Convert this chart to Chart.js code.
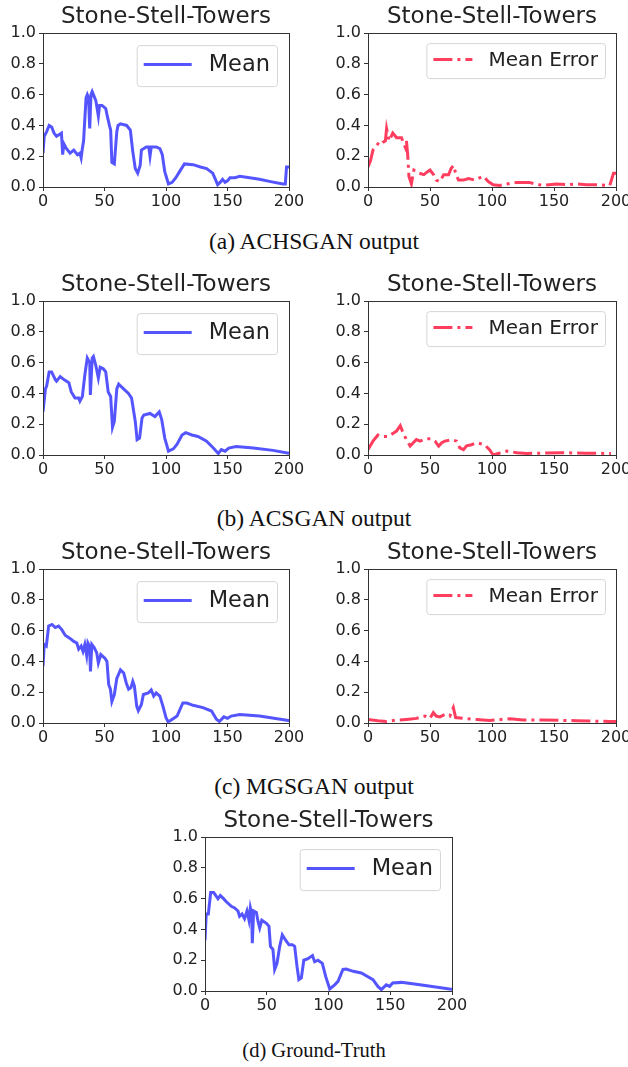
<!DOCTYPE html>
<html>
<head>
<meta charset="utf-8">
<script src="https://cdn.jsdelivr.net/npm/chart.js@4.4.1/dist/chart.umd.min.js"></script>
<style>
  body { margin: 0; background: #fff; width: 628px; height: 1067px; position: relative; overflow: hidden; }
  .box { position: absolute; height: 215px; }
  .cap { position: absolute; left: 0; width: 628px; text-align: center; font-family: "Liberation Serif", "Times New Roman", serif; font-size: 23.5px; color: #111; line-height: 26px; }
</style>
</head>
<body>
<div class="box" style="left:0;top:0;width:310px"><canvas id="aMean"></canvas></div>
<div class="box" style="left:325px;top:0;width:303px"><canvas id="aErr"></canvas></div>
<div class="cap" style="top:228px">(a) ACHSGAN output</div>
<div class="box" style="left:0;top:268px;width:310px"><canvas id="bMean"></canvas></div>
<div class="box" style="left:325px;top:268px;width:303px"><canvas id="bErr"></canvas></div>
<div class="cap" style="top:505px">(b) ACSGAN output</div>
<div class="box" style="left:0;top:536px;width:310px"><canvas id="cMean"></canvas></div>
<div class="box" style="left:325px;top:536px;width:303px"><canvas id="cErr"></canvas></div>
<div class="cap" style="top:773px">(c) MGSGAN output</div>
<div class="box" style="left:162px;top:804px;width:310px"><canvas id="dMean"></canvas></div>
<div class="cap" style="top:1037px;font-size:20.5px">(d) Ground-Truth</div>

<script>
// values (x = sample index, y = value)
const achsMeanX = [0,1,3,5,7,9,11,13,15,16, 17,19,22,25,28,30,31,32,33,35, 36,37,38,39,40,41,43,45,46,48, 51,52,54,55,56,58,60,61,63,68, 71,73,75,77,79,80,84,86,87,88, 92,95,97,99,102,105,108,111,115,122, 128,133,138,142,144,146,148,150,152,156, 160,168,176,185,195,197,198,200];
const achsMeanY = [0.22,0.33,0.36,0.40,0.39,0.35,0.33,0.34,0.35,0.21, 0.28,0.25,0.22,0.24,0.21,0.22,0.19,0.25,0.30,0.58, 0.60,0.58,0.38,0.60,0.62,0.60,0.56,0.46,0.53,0.53, 0.51,0.47,0.40,0.37,0.16,0.15,0.36,0.40,0.41,0.40, 0.37,0.23,0.12,0.09,0.14,0.24,0.26,0.26,0.20,0.26, 0.26,0.25,0.21,0.10,0.02,0.03,0.06,0.10,0.15,0.145, 0.13,0.12,0.09,0.015,0.03,0.05,0.03,0.04,0.06,0.06, 0.07,0.06,0.05,0.035,0.02,0.02,0.13,0.13];

const achsErrX = [0,2,4,6,8,10,12,14,15,17, 20,23,27,30,31,32,33,35,37,41, 45,48,50,53,55,58,61,65,67,69, 71,73,77,81,86,90,93,97,101,106, 112,120,130,135,141,146,152,160,168,176, 184,195,198,200];
const achsErrY = [0.13,0.17,0.24,0.26,0.28,0.27,0.29,0.30,0.38,0.30, 0.35,0.32,0.32,0.26,0.30,0.21,0.07,0.02,0.11,0.09, 0.08,0.10,0.11,0.08,0.045,0.035,0.08,0.08,0.12,0.14, 0.08,0.045,0.045,0.055,0.045,0.06,0.07,0.035,0.015,0.01, 0.02,0.03,0.03,0.02,0.01,0.015,0.02,0.015,0.02,0.015, 0.015,0.01,0.09,0.09];

const acsMeanX = [0,2,3,5,7,10,11,14,17,21, 23,26,29,30,32,34,36,38,38.5,40, 41,43,45,46.5,49,51,53,55,56.5,58, 60,61.5,65.5,69.5,72,75,76.5,78.5,80.5,82, 87,91,94.5,96.5,99,102,106,109,113,116, 121,126,133,138.5,142.5,145,148,151,157,171, 187,200];
const acsMeanY = [0.28,0.43,0.45,0.54,0.54,0.49,0.48,0.51,0.49,0.47, 0.41,0.37,0.37,0.35,0.38,0.52,0.63,0.60,0.39,0.63, 0.64,0.58,0.50,0.57,0.56,0.54,0.41,0.38,0.18,0.22, 0.43,0.46,0.43,0.40,0.37,0.22,0.10,0.11,0.24,0.26, 0.27,0.25,0.28,0.23,0.11,0.025,0.04,0.07,0.13,0.145, 0.13,0.12,0.09,0.045,0.01,0.035,0.025,0.045,0.055,0.045, 0.03,0.012];

const acsErrX = [0,4,8,12,16,20,23,26,28.5,31, 34,36.5,39,42,46,51,54,57,59.5,62, 67.5,71.5,74,77,79.5,83.5,87.5,90,94,98, 101,105,112,120,128,157,175,196];
const acsErrY = [0.035,0.09,0.13,0.12,0.12,0.14,0.155,0.19,0.14,0.10, 0.058,0.08,0.10,0.09,0.105,0.105,0.09,0.058,0.08,0.09, 0.10,0.09,0.047,0.035,0.06,0.067,0.08,0.075,0.067,0.035, 0.0,0.01,0.025,0.015,0.01,0.015,0.012,0.01];

const mgsMeanX = [0,1,2.7,4.6,7.3,10,12.7,15.4,18,22, 25,27.5,29,31,32.5,34,35.5,36.5,37.8,38.6, 39.7,41.6,43.7,45,47,50.5,52,53.4,54.8,56, 58,60,63,65.6,67.7,69.6,71.5,73,74.3,76.2, 77.5,80,81.6,85.6,88,90,92,95,97.5,100, 101.6,103,109,113.7,117,122,130,137,141,143.4, 147,150,153,160,176,199.5,200];
const mgsMeanY = [0.37,0.51,0.50,0.63,0.64,0.62,0.63,0.605,0.57,0.55, 0.53,0.52,0.48,0.50,0.465,0.51,0.44,0.52,0.50,0.335, 0.51,0.49,0.455,0.39,0.445,0.42,0.40,0.25,0.22,0.14, 0.185,0.29,0.345,0.325,0.26,0.22,0.23,0.27,0.24,0.11, 0.08,0.12,0.185,0.195,0.215,0.175,0.195,0.175,0.11,0.035, 0.01,0.013,0.045,0.13,0.13,0.115,0.10,0.078,0.024,0.01, 0.04,0.03,0.045,0.055,0.045,0.017,0.017];

const mgsErrX = [0,8,15,22,26,33,39,46,50,52.7, 55,58,62,66,68.8,70.7,76.9,87.6,98,114.5, 125,141,168,195,200];
const mgsErrY = [0.023,0.015,0.01,0.018,0.02,0.025,0.03,0.045,0.03,0.067, 0.045,0.04,0.055,0.045,0.10,0.035,0.03,0.023,0.016,0.028, 0.02,0.02,0.015,0.01,0.01];

const gtMeanX = [0,1,2.7,4.6,7,10.5,12.4,15,17.3,21.3, 24,26.7,28,30,32,34,35.6,36.7,37.8,38.3, 39.4,41.6,43,44.3,46,49.7,51.8,53,55,56.4, 58.3,60.5,62.6,65.3,68,70.7,72.6,74.5,76,78, 80,83.4,87,88.8,91.5,95,97.7,101,105,107.7, 111.7,114.4,120,126.6,136,140,142.8,146.8,149.5,152, 159,174,198,200];
const gtMeanY = [0.33,0.50,0.50,0.64,0.64,0.60,0.62,0.60,0.58,0.55, 0.54,0.52,0.485,0.50,0.47,0.52,0.46,0.54,0.50,0.31, 0.52,0.51,0.45,0.41,0.46,0.44,0.42,0.29,0.27,0.14, 0.18,0.29,0.365,0.33,0.30,0.30,0.29,0.16,0.074,0.085, 0.20,0.21,0.23,0.19,0.20,0.18,0.095,0.013,0.04,0.063, 0.14,0.143,0.128,0.117,0.074,0.03,0.009,0.04,0.03,0.052, 0.056,0.04,0.013,0.012];

const xTicks = [0, 50, 100, 150, 200];
const yTicks = [0, 0.2, 0.4, 0.6, 0.8, 1.0];
const chartTitle = 'Stone-Stell-Towers';

const FONT = '"DejaVu Sans", sans-serif';
const INK = '#222';

// matplotlib style legend box in the upper right corner
const boxLegend = {
  id: 'boxLegend',
  afterDraw(chart, args, o) {
    const ds = chart.data.datasets[0];
    const { ctx, chartArea } = chart;
    ctx.save();
    ctx.font = o.size + 'px ' + FONT;
    const tw = ctx.measureText(ds.label).width;
    const w = o.pad + o.sample + o.gap + tw + o.pad;
    const x = chartArea.right - o.inset - w;
    const y = chartArea.top + o.insetTop;
    ctx.beginPath();
    ctx.roundRect(x + 0.5, y + 0.5, w, o.height, 3);
    ctx.fillStyle = 'rgba(255,255,255,0.85)';
    ctx.fill();
    ctx.strokeStyle = '#d6d6d6';
    ctx.lineWidth = 1;
    ctx.stroke();
    const my = y + o.height / 2;
    ctx.beginPath();
    ctx.strokeStyle = ds.borderColor;
    ctx.lineWidth = ds.borderWidth;
    ctx.setLineDash(ds.borderDash || []);
    ctx.moveTo(x + o.pad, my - 1);
    ctx.lineTo(x + o.pad + o.sample, my - 1);
    ctx.stroke();
    ctx.setLineDash([]);
    ctx.fillStyle = INK;
    ctx.textBaseline = 'middle';
    ctx.fillText(ds.label, x + o.pad + o.sample + o.gap, my);
    ctx.restore();
  }
};

// box around the plot area
const frame = {
  id: 'frame',
  afterDraw(chart) {
    const { ctx, chartArea: a } = chart;
    ctx.save();
    ctx.strokeStyle = '#333';
    ctx.lineWidth = 1;
    ctx.strokeRect(Math.round(a.left) + 0.5, Math.round(a.top) + 0.5, Math.round(a.right - a.left), Math.round(a.bottom - a.top));
    ctx.restore();
  }
};

function makeChart(id, xs, ys, kind, padRight) {
  const isErr = kind === 'err';
  const points = xs.map((x, i) => ({ x, y: ys[i] }));
  const tickFont = { family: FONT, size: 16 };
  return new Chart(document.getElementById(id), {
    type: 'line',
    data: {
      datasets: [{
        label: isErr ? 'Mean Error' : 'Mean',
        data: points,
        borderColor: isErr ? 'rgba(255,20,60,0.82)' : 'rgba(20,20,255,0.72)',
        borderWidth: 3,
        borderDash: isErr ? [19, 5, 3, 5] : [],
        pointRadius: 0,
        tension: 0,
        fill: false
      }]
    },
    options: {
      responsive: true,
      maintainAspectRatio: false,
      animation: false,
      layout: { padding: { left: 0, right: padRight, top: 0, bottom: 0 } },
      plugins: {
        legend: { display: false },
        tooltip: { enabled: false },
        title: {
          display: true,
          text: chartTitle,
          fullSize: false,
          color: INK,
          font: { family: FONT, size: 23, weight: 'normal', lineHeight: 1.2 },
          padding: { top: 3, bottom: 2.5 }
        },
        boxLegend: isErr
          ? { size: 20, pad: 7, sample: 39, gap: 16, height: 35, inset: 11, insetTop: 10 }
          : { size: 22.5, pad: 7, sample: 48, gap: 17, height: 41, inset: 12, insetTop: 12 }
      },
      scales: {
        x: {
          type: 'linear',
          min: 0,
          max: 200,
          afterBuildTicks: s => { s.ticks = xTicks.map(v => ({ value: v })); },
          afterFit: s => { s.height = 28; s.paddingLeft = 0; s.paddingRight = 0; },
          ticks: { color: INK, font: tickFont, padding: 1, maxRotation: 0, autoSkip: false },
          grid: { drawOnChartArea: false, drawTicks: true, tickLength: 4, tickColor: '#333' },
          border: { display: true, color: '#333' }
        },
        y: {
          min: 0,
          max: 1,
          afterBuildTicks: s => { s.ticks = yTicks.map(v => ({ value: v })); },
          afterFit: s => { s.width = 43; s.paddingTop = 0; s.paddingBottom = 0; },
          ticks: { color: INK, font: tickFont, padding: 3, callback: v => v.toFixed(1) },
          grid: { drawOnChartArea: false, drawTicks: true, tickLength: 4, tickColor: '#333' },
          border: { display: true, color: '#333' }
        }
      }
    },
    plugins: [frame, boxLegend]
  });
}

makeChart('aMean', achsMeanX, achsMeanY, 'mean', 21);
makeChart('aErr', achsErrX, achsErrY, 'err', 12);
makeChart('bMean', acsMeanX, acsMeanY, 'mean', 21);
makeChart('bErr', acsErrX, acsErrY, 'err', 12);
makeChart('cMean', mgsMeanX, mgsMeanY, 'mean', 21);
makeChart('cErr', mgsErrX, mgsErrY, 'err', 12);
makeChart('dMean', gtMeanX, gtMeanY, 'mean', 20);
</script>
</body>
</html>
